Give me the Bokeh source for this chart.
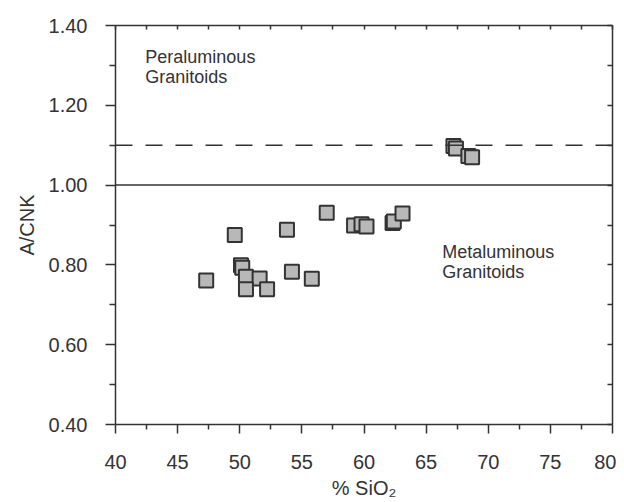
from bokeh.plotting import figure
from bokeh.models import (Range1d, LinearAxis, FixedTicker, PrintfTickFormatter,
                          Span, ColumnDataSource, CustomJSTickFormatter)
from bokeh.core.properties import value
from bokeh.embed import file_html
from bokeh.resources import INLINE

# data
sio2 = [47.3, 49.6, 50.1, 50.2, 50.5, 51.6, 50.5, 52.2, 53.8, 54.2, 55.8,
        57.0, 59.2, 59.8, 60.2, 62.3, 62.4, 63.1, 67.2, 67.4, 68.4, 68.7]
acnk = [0.761, 0.875, 0.799, 0.793, 0.770, 0.766, 0.739, 0.739, 0.888, 0.783, 0.765,
        0.931, 0.899, 0.902, 0.896, 0.905, 0.909, 0.929, 1.098, 1.092, 1.073, 1.070]

region_labels = ["Peraluminous", "Granitoids", "Metaluminous", "Granitoids"]
region_x = [42.4, 42.4, 66.3, 66.3]
region_y = [1.322, 1.270, 0.833, 0.782]

peraluminous_limit = 1.10
metaluminous_limit = 1.00

x_major = [40, 45, 50, 55, 60, 65, 70, 75, 80]
x_minor = [42.5, 47.5, 52.5, 57.5, 62.5, 67.5, 72.5, 77.5]
y_major = [0.40, 0.60, 0.80, 1.00, 1.20, 1.40]
y_minor = [0.50, 0.70, 0.90, 1.10, 1.30]

FONT = "Liberation Sans"
INK = "#333333"

p = figure(width=616, height=502, output_backend="svg", toolbar_location=None,
           x_range=Range1d(40, 80), y_range=Range1d(0.40, 1.40),
           x_axis_location=None, y_axis_location=None,
           min_border_left=115, min_border_right=4, min_border_top=25, min_border_bottom=78)
p.xgrid.visible = False
p.ygrid.visible = False
p.outline_line_color = None
p.background_fill_color = "white"

def xt():
    return FixedTicker(ticks=x_major, minor_ticks=x_minor)

def yt():
    return FixedTicker(ticks=y_major, minor_ticks=y_minor)

def style(ax):
    ax.axis_line_color = INK
    ax.axis_line_width = 1.5
    ax.major_tick_line_color = INK
    ax.minor_tick_line_color = INK
    ax.major_tick_line_width = 1.5
    ax.minor_tick_line_width = 1.5
    ax.major_label_text_font = FONT
    ax.major_label_text_color = INK
    ax.major_label_text_font_size = "20px"
    ax.axis_label_text_font = FONT
    ax.axis_label_text_color = INK
    ax.axis_label_text_font_size = "20px"
    ax.axis_label_text_font_style = "normal"

bottom = LinearAxis(ticker=xt(), axis_label="% SiO\u2082")
style(bottom)
bottom.major_tick_out = 9
bottom.major_tick_in = 0
bottom.minor_tick_out = 5
bottom.minor_tick_in = 0
bottom.major_label_standoff = 21
bottom.axis_label_standoff = 5
p.add_layout(bottom, "below")

left = LinearAxis(ticker=yt(), axis_label="A/CNK",
                  formatter=PrintfTickFormatter(format="%.2f"))
style(left)
left.major_tick_out = 10
left.major_tick_in = 0
left.minor_tick_out = 6
left.minor_tick_in = 0
left.major_label_standoff = 18
left.axis_label_standoff = 8
p.add_layout(left, "left")

blank = "return ''"
top = LinearAxis(ticker=xt(), formatter=CustomJSTickFormatter(code=blank))
style(top)
top.major_tick_out = 0
top.major_tick_in = 4
top.minor_tick_out = 0
top.minor_tick_in = 4
top.major_label_standoff = 0
top.major_label_text_font_size = "0px"
p.add_layout(top, "above")

right = LinearAxis(ticker=yt(), formatter=CustomJSTickFormatter(code=blank))
style(right)
right.major_tick_out = 0
right.major_tick_in = 5
right.minor_tick_out = 0
right.minor_tick_in = 5
right.major_label_standoff = 0
right.major_label_text_font_size = "0px"
p.add_layout(right, "right")

p.add_layout(Span(location=peraluminous_limit, dimension="width", line_color=INK,
                  line_width=1.5, line_dash="17 13"))
p.add_layout(Span(location=metaluminous_limit, dimension="width", line_color=INK,
                  line_width=1.5))

src = ColumnDataSource(dict(x=sio2, y=acnk))
p.scatter("x", "y", source=src, marker="square", size=14, fill_color="#b8b8b8",
          line_color=INK, line_width=2)

lab = ColumnDataSource(dict(x=region_x, y=region_y, t=region_labels))
p.text("x", "y", text="t", source=lab, text_font=value(FONT), text_font_size="18px",
       text_color=INK, text_baseline="middle", text_align="left")

open("out.html", "w").write(file_html(p, INLINE))
